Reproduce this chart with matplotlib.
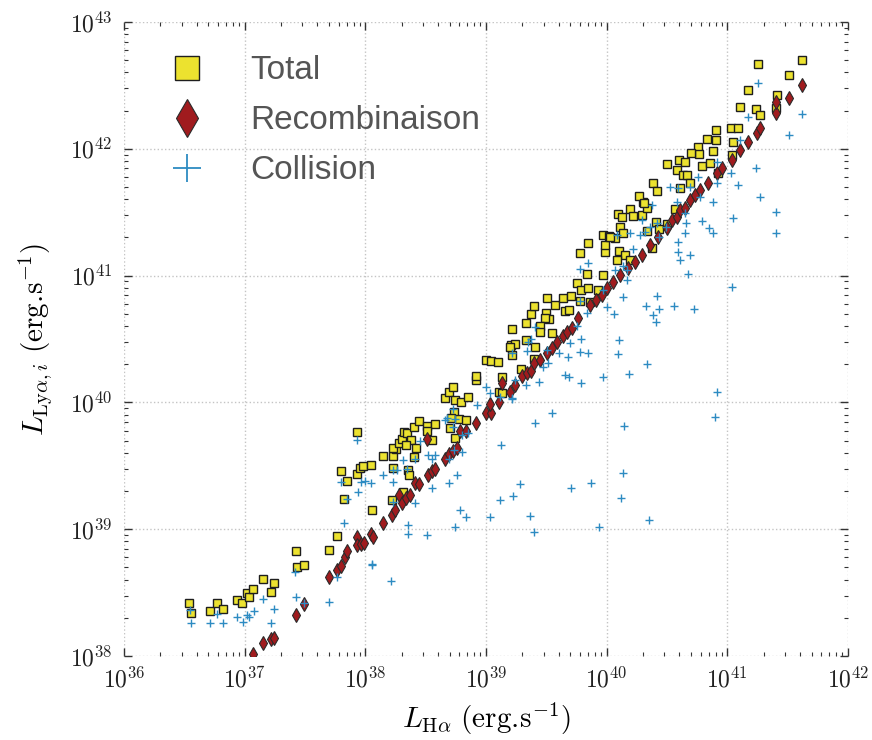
import numpy as np
import matplotlib
matplotlib.use("Agg")
import matplotlib.pyplot as plt
from matplotlib.ticker import FuncFormatter, FixedLocator, NullFormatter

plt.rcParams['mathtext.fontset'] = 'cm'

# log10 values
total_lx = [36.541, 36.553, 36.712, 36.768, 36.818, 36.939, 36.975, 37.017, 37.038, 37.071,
            37.149, 37.243, 37.215, 37.431, 37.494, 37.701, 37.767, 37.423, 38.057, 37.823,
            37.798, 37.850, 37.933, 37.933, 37.955, 37.983, 38.044, 38.148, 38.231, 38.253,
            38.231, 38.218, 38.226, 38.281, 38.306, 38.320, 38.347, 38.378, 38.334, 38.314,
            38.356, 38.364, 38.403, 38.419, 38.403, 38.447, 38.513, 38.574, 38.508, 38.549,
            38.662, 38.695, 38.728, 38.742, 38.792, 38.848, 38.914, 39.109, 38.734, 38.707,
            38.778, 38.831, 38.698, 38.742, 38.916, 38.999, 39.038, 39.101, 39.136, 39.129,
            39.209, 39.242, 39.212, 39.287, 39.333, 39.405, 39.397, 39.212, 39.331, 39.372,
            39.397, 39.502, 39.573, 39.635, 39.702, 39.656, 39.689, 39.496, 39.524, 39.488,
            39.447, 39.447, 39.544, 39.198, 39.751, 39.778, 39.778, 39.786, 39.842, 39.838,
            39.847, 39.971, 39.985, 39.971, 39.985, 40.021, 40.068, 40.109, 40.137, 40.104,
            40.151, 40.082, 40.192, 40.090, 40.128, 40.192, 40.220, 40.289, 40.331, 40.302,
            40.331, 40.372, 40.408, 40.435, 40.496, 39.930, 39.861, 40.026, 40.269, 40.308,
            40.380, 40.419, 40.501, 40.579, 40.598, 40.647, 40.634, 40.662, 40.606, 40.689,
            40.565, 40.758, 40.764, 40.695, 40.786, 40.833, 40.855, 40.882, 40.905, 40.905,
            40.924, 41.029, 41.090, 41.048, 41.035, 41.170, 41.104, 41.236, 41.269, 41.253,
            41.408, 41.402, 41.512, 41.620]
total_ly = [38.416, 38.337, 38.357, 38.416, 38.373, 38.442, 38.421, 38.495, 38.463, 38.526,
            38.605, 38.574, 38.505, 38.705, 38.716, 38.836, 38.943, 38.826, 39.152, 39.242,
            39.459, 39.384, 39.769, 39.436, 39.480, 39.499, 39.507, 39.577, 39.581, 39.633,
            39.480, 39.228, 39.638, 39.678, 39.711, 39.769, 39.757, 39.704, 39.664, 39.296,
            39.467, 39.428, 39.809, 39.643, 39.572, 39.856, 39.814, 39.830, 39.777, 39.704,
            40.032, 40.080, 40.124, 40.019, 40.006, 40.045, 40.177, 40.085, 39.927, 39.875,
            39.867, 39.861, 39.796, 39.717, 40.208, 40.331, 40.329, 40.315, 40.200, 40.077,
            40.449, 40.463, 40.370, 40.264, 40.492, 40.436, 40.340, 40.581, 40.624, 40.696,
            40.760, 40.823, 40.768, 40.821, 40.839, 40.718, 40.729, 40.703, 40.655, 40.663,
            40.600, 40.558, 40.547, 40.439, 40.939, 40.802, 41.181, 40.887, 40.900, 41.013,
            41.255, 41.005, 41.189, 41.320, 41.241, 41.312, 41.294, 41.381, 41.338, 41.194,
            41.163, 41.123, 41.123, 41.486, 41.465, 41.523, 41.472, 41.478, 41.531, 41.583,
            41.354, 41.215, 41.420, 41.365, 41.407, 40.887, 40.794, 41.307, 41.628, 41.575,
            41.733, 41.667, 41.880, 41.833, 41.912, 41.898, 41.793, 41.793, 41.689, 41.733,
            41.523, 42.017, 41.957, 41.969, 41.864, 42.075, 41.890, 41.983, 42.148, 42.069,
            41.807, 42.162, 42.162, 42.056, 41.951, 42.464, 42.332, 42.312, 42.267, 42.666,
            42.424, 42.324, 42.580, 42.700]

recomb_lx = [37.071, 37.149, 37.215, 37.243, 37.425, 37.491, 37.701, 37.767, 37.798, 37.831,
             37.852, 37.933, 37.933, 37.964, 37.988, 38.046, 38.060, 38.148, 38.218, 38.245,
             38.278, 38.301, 38.336, 38.370, 38.411, 38.444, 38.508, 38.521, 38.549, 38.577,
             38.659, 38.695, 38.723, 38.756, 38.784, 38.833, 38.916, 38.999, 39.038, 39.032,
             39.107, 39.129, 39.198, 39.239, 39.295, 39.336, 39.370, 39.397, 39.447, 39.502,
             39.543, 39.585, 39.635, 39.668, 39.709, 39.764, 39.861, 39.911, 39.958, 40.002,
             40.054, 40.109, 40.178, 40.234, 40.289, 40.358, 40.427, 40.496, 40.540, 40.579,
             40.606, 40.648, 40.689, 40.731, 40.772, 40.841, 40.911, 40.954, 41.035, 41.104,
             41.172, 41.242, 41.269, 41.402, 41.402, 41.512, 41.620]
recomb_ly = [38.016, 38.100, 38.137, 38.142, 38.326, 38.410, 38.621, 38.678, 38.706, 38.783,
             38.828, 38.941, 38.876, 38.887, 38.891, 38.962, 38.941, 39.049, 39.112, 39.152,
             39.270, 39.204, 39.244, 39.270, 39.367, 39.357, 39.709, 39.428, 39.462, 39.475,
             39.551, 39.593, 39.619, 39.638, 39.777, 39.777, 39.835, 39.919, 39.919, 39.988,
             40.006, 40.151, 40.085, 40.137, 40.208, 40.230, 40.250, 40.308, 40.335, 40.392,
             40.427, 40.479, 40.524, 40.558, 40.585, 40.663, 40.768, 40.808, 40.847, 40.902,
             40.952, 41.005, 41.058, 41.110, 41.163, 41.241, 41.307, 41.373, 41.439, 41.465,
             41.517, 41.531, 41.596, 41.636, 41.675, 41.728, 41.807, 41.849, 41.912, 41.991,
             42.056, 42.122, 42.162, 42.280, 42.371, 42.398, 42.503]

coll_lx = [36.547, 36.558, 36.713, 36.768, 36.823, 36.939, 36.983, 37.017, 37.038, 37.077,
           37.149, 37.243, 37.215, 37.419, 37.425, 37.491, 37.701, 37.767, 38.052, 38.210,
           37.933, 37.798, 37.961, 37.997, 38.044, 37.941, 37.850, 37.823, 38.148, 38.231,
           38.231, 38.057, 38.259, 38.342, 38.314, 38.411, 38.452, 38.521, 38.577, 38.549,
           38.231, 38.411, 38.554, 38.695, 38.756, 38.355, 38.355, 38.508, 38.742, 38.784,
           38.833, 39.036, 39.119, 39.128, 39.285, 39.223, 39.364, 39.397, 39.405, 39.438,
           38.695, 38.734, 38.798, 38.659, 38.728, 38.798, 38.853, 38.922, 38.999, 39.032,
           39.212, 39.331, 39.544, 39.784, 39.938, 39.869, 39.701, 40.143, 40.137, 40.115,
           40.350, 40.916, 40.897,
           39.405, 39.370, 39.336, 39.212, 39.502, 39.604, 39.515, 39.469, 39.239, 39.212,
           39.115, 39.695, 39.756, 39.654, 39.689, 39.676, 38.723, 38.674, 38.742,
           39.778, 39.842, 39.999, 40.060, 40.132, 40.104, 40.095, 40.331, 40.184, 39.971,
           40.325, 40.385, 40.408, 40.430, 40.557, 40.722, 40.675, 40.592, 40.592, 40.606,
           40.689, 40.648, 40.656, 40.579, 40.372, 40.289, 40.316, 40.220, 40.165, 40.165,
           40.068, 40.137, 39.778, 39.833, 39.784, 39.778, 39.847, 39.350, 39.971, 40.275,
           40.358, 40.435, 40.648,
           41.253, 41.170, 41.620, 41.512, 41.109, 41.236, 41.029, 41.090, 41.269, 41.402,
           41.402, 41.048, 40.882, 40.786, 40.849, 40.882, 40.911, 40.911, 40.758, 40.689,
           40.772, 40.592, 40.524, 40.419, 40.490, 40.192, 40.082, 41.035, 40.413]
coll_ly = [38.363, 38.263, 38.258, 38.331, 38.263, 38.305, 38.268, 38.324, 38.305, 38.357,
           38.447, 38.369, 38.258, 38.663, 38.468, 38.416, 38.429, 38.626, 38.720, 38.594,
           39.700, 39.375, 39.375, 39.383, 39.367, 39.296, 39.238, 39.051, 39.424, 39.375,
           39.467, 38.726, 39.467, 39.473, 39.546, 39.551, 39.698, 39.585, 39.585, 39.551,
           39.217, 39.204, 39.323, 39.367, 39.428, 39.033, 38.962, 38.954, 39.015, 39.152,
           39.099, 39.099, 39.230, 39.664, 39.354, 39.264, 39.104, 38.976, 39.835, 40.163,
           39.551, 39.625, 39.611, 39.861, 39.809, 39.743, 39.757, 39.980, 40.119, 40.072,
           40.032, 40.137, 39.919, 40.156, 39.020, 39.367, 39.323, 39.817, 39.441, 39.244,
           39.073, 40.085, 39.887,
           40.592, 40.498, 40.408, 40.387, 40.413, 40.387, 40.308, 40.282, 40.177, 40.025,
           40.045, 40.466, 40.603, 40.216, 40.203, 40.361, 39.946, 39.875, 39.867,
           41.052, 41.097, 40.750, 40.697, 40.834, 40.492, 40.382, 40.303, 40.224, 40.198,
           40.760, 40.689, 40.637, 40.737, 40.760, 40.734, 41.013, 41.267, 41.189, 41.123,
           41.163, 41.334, 41.417, 41.583, 41.557, 41.439, 41.346, 41.208, 41.044, 40.965,
           41.044, 41.076, 40.802, 40.703, 40.498, 40.400, 40.387, 40.479, 40.887, 41.320,
           41.386, 41.307, 41.491,
           42.517, 42.253, 42.274, 42.109, 42.069, 41.851, 41.807, 41.715, 41.622, 41.504,
           41.338, 41.452, 41.578, 41.431, 41.373, 41.338, 41.898, 41.728, 41.780, 41.701,
           41.622, 41.689, 41.701, 41.417, 41.386, 41.338, 41.320, 40.913, 40.842]

labels = ["Total", "Recombinaison", "Collision"]
x_decades = [36, 37, 38, 39, 40, 41, 42]
y_decades = [38, 39, 40, 41, 42, 43]

fig = plt.figure(figsize=(8.72, 7.40), dpi=100)
ax = fig.add_axes([124/872, 1-656/740, (848-124)/872, (656-22)/740])

ax.plot(10**np.array(total_lx), 10**np.array(total_ly), 's', ms=5.4,
        mfc='#ECE22F', mec='#1e1e1e', mew=1.0, label=labels[0], zorder=3)
ax.plot(10**np.array(recomb_lx), 10**np.array(recomb_ly), 'd', ms=6.7,
        mfc='#A01B1E', mec='#2a2a2a', mew=0.8, label=labels[1], zorder=4)
ax.plot(10**np.array(coll_lx), 10**np.array(coll_ly), '+', ms=6.2,
        color='#2D8BC2', mew=1.0, label=labels[2], zorder=5)

ax.set_xscale('log')
ax.set_yscale('log')
ax.set_xlim(10.0**x_decades[0], 10.0**x_decades[-1])
ax.set_ylim(10.0**y_decades[0], 10.0**y_decades[-1])

for s in ax.spines.values():
    s.set_visible(False)
ax.grid(True, which='major', linestyle=':', color='#c4c4c4', linewidth=1.0)
ax.set_axisbelow(True)

def minor_ticks(decs):
    return [m * 10.0**d for d in decs[:-1] for m in range(2, 10)]

fmt = FuncFormatter(lambda v, p: r'$10^{%d}$' % int(round(np.log10(v))))
ax.xaxis.set_major_locator(FixedLocator([10.0**d for d in x_decades]))
ax.yaxis.set_major_locator(FixedLocator([10.0**d for d in y_decades]))
ax.xaxis.set_minor_locator(FixedLocator(minor_ticks(x_decades)))
ax.yaxis.set_minor_locator(FixedLocator(minor_ticks(y_decades)))
ax.xaxis.set_major_formatter(fmt)
ax.yaxis.set_major_formatter(fmt)
ax.xaxis.set_minor_formatter(NullFormatter())
ax.yaxis.set_minor_formatter(NullFormatter())
ax.tick_params(which='both', direction='in', top=True, right=True, colors='#333333',
               labelcolor='#222222', labelsize=17)
ax.tick_params(which='major', length=6, width=1.0, pad=8)
ax.tick_params(which='minor', length=3, width=0.8)

ax.set_xlabel(r'$L_{\mathrm{H}\alpha}\ (\mathrm{erg}.\!\mathrm{s}^{-1})$', fontsize=21, labelpad=6)
ax.set_ylabel(r'$L_{\mathrm{Ly}\alpha,i}\ (\mathrm{erg}.\!\mathrm{s}^{-1})$', fontsize=21, labelpad=12)

leg = ax.legend(loc='upper left', bbox_to_anchor=(0.0, 0.995), frameon=False,
                prop={'family': 'Liberation Sans', 'size': 24}, labelcolor='#555555',
                handlelength=2.0, handletextpad=0.88, labelspacing=0.57, numpoints=1)
hs = leg.legend_handles
hs[0].set_markersize(17.3)
hs[1].set_markersize(19.5)
hs[2].set_markersize(20)
hs[2].set_markeredgewidth(1.3)

fig.savefig('out.png', dpi=100)
